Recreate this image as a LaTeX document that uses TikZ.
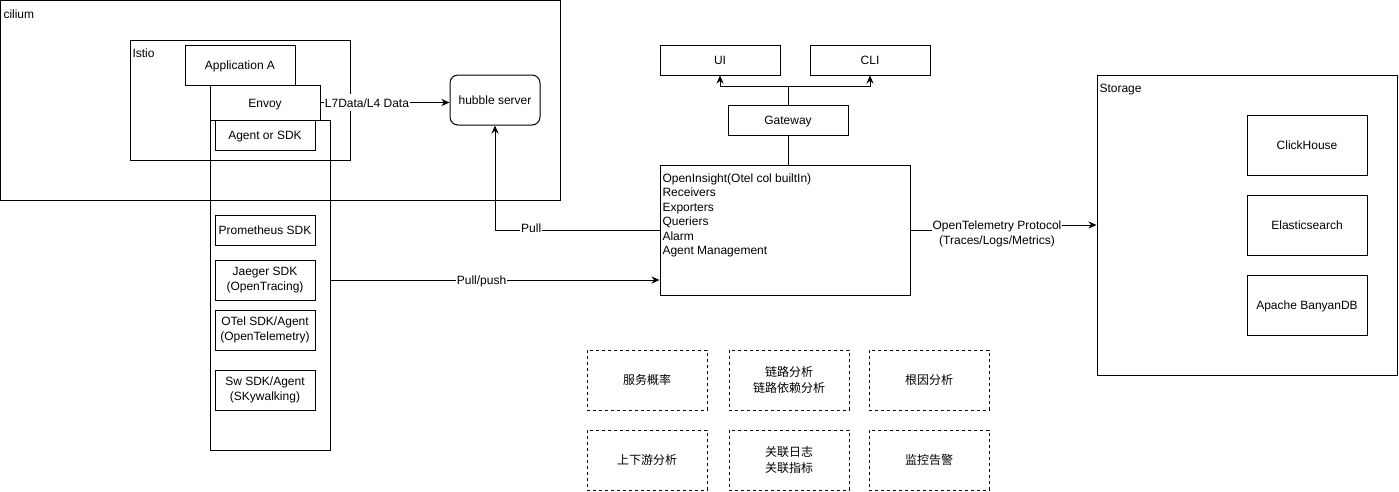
\documentclass[tikz,border=0pt]{standalone}
\usepackage{fontspec}
\setmainfont{Liberation Sans}
\newfontfamily\cjk{Noto Sans CJK SC}
\usetikzlibrary{arrows.meta}
\begin{document}
\begin{tikzpicture}[x=1pt,y=-1pt,line width=1pt,
  font=\fontsize{12}{14.4}\selectfont,
  txt/.style={execute at begin node={\rule{0pt}{12.4pt}},execute at end node={\rule[-2.5pt]{0pt}{2.5pt}}},
  box/.style={draw,inner sep=0pt,align=center,txt},
  dbox/.style={draw,inner sep=0pt,align=center,dash pattern=on 3pt off 3pt,font=\cjk\fontsize{12}{16}\selectfont,minimum width=120,minimum height=60},
  arr/.style={-{Stealth[length=8pt,width=7pt,inset=2.5pt]}},
  lbl/.style={fill=white,inner sep=1pt,align=center,txt},
  tag/.style={anchor=north west,inner sep=0pt,txt}]
\useasboundingbox (0,0) rectangle (1399,491);
% containers
\node[box,minimum width=559.5,minimum height=199.5] (cilium) at (280.25,100.25) {};
\node[tag] (ciliumlbl) at (3,6) {cilium};
\node[box,minimum width=220,minimum height=120] (istio) at (240,100) {};
\node[tag] (istiolbl) at (132,44.5) {Istio};
\node[box,minimum width=120,minimum height=330] (col) at (270,285) {};
\node[box,minimum width=110,minimum height=40] (app) at (240,65) {Application A};
\node[box,minimum width=110,minimum height=35] (envoy) at (265,102.5) {Envoy};
\node[box,minimum width=100,minimum height=30] (agent) at (265,135) {Agent or SDK};
\node[box,minimum width=100,minimum height=30] (prom) at (265,230) {Prometheus SDK};
\node[box,minimum width=100,minimum height=40] (jaeger) at (265,280) {Jaeger SDK\\(OpenTracing)};
\node[box,minimum width=100,minimum height=40] (otel) at (265,330) {OTel SDK/Agent\\(OpenTelemetry)};
\node[box,minimum width=100,minimum height=40] (sw) at (265,390) {Sw SDK/Agent\\(SKywalking)};
\node[box,rounded corners=8pt,minimum width=90,minimum height=50] (hubble) at (495,100) {hubble server};
% middle
\node[box,minimum width=120,minimum height=30] (ui) at (720,60) {UI};
\node[box,minimum width=120,minimum height=30] (cli) at (870,60) {CLI};
\node[box,minimum width=120,minimum height=30] (gw) at (788,120) {Gateway};
\node[box,minimum width=250,minimum height=130] (oi) at (785,230) {};
\node[tag,align=left,font=\fontsize{12}{14.5}\selectfont] (oitext) at (662,173) {OpenInsight(Otel col builtIn)\\Receivers\\Exporters\\Queriers\\Alarm\\Agent Management};
% storage
\node[box,minimum width=300,minimum height=300] (storage) at (1247,225) {};
\node[tag] (storagelbl) at (1099,80) {Storage};
\node[box,minimum width=120,minimum height=60] (ch) at (1307,145) {ClickHouse};
\node[box,minimum width=120,minimum height=60] (es) at (1307,225) {Elasticsearch};
\node[box,minimum width=120,minimum height=60] (bdb) at (1307,305) {Apache BanyanDB};
% dashed feature boxes
\node[dbox] (f1) at (647,380) {服务概率};
\node[dbox] (f2) at (789,380) {链路分析\\链路依赖分析};
\node[dbox] (f3) at (929,380) {根因分析};
\node[dbox] (f4) at (647,460) {上下游分析};
\node[dbox] (f5) at (789,460) {关联日志\\关联指标};
\node[dbox] (f6) at (929,460) {监控告警};
% connectors
\draw[arr] (envoy.east) -- node[lbl,pos=0.36] {L7Data/L4 Data} (hubble.west |- envoy.east);
\draw[arr] (oi.west) -| node[lbl,pos=0.39,yshift=2.5pt] {Pull} (hubble.south);
\coordinate (pp) at (330,280);
\draw[arr] (pp) -- node[lbl,pos=0.46] {Pull/push} (oi.west |- pp);
\draw (gw.south) -- (gw.south |- oi.north);
\coordinate (j) at (788,86);
\draw[arr] (gw.north) -- (j) -| (ui.south);
\draw[arr] (j) -| (cli.south);
\coordinate (jog) at (995,230);
\draw[arr] (oi.east) -- (jog) |- (storage.west);
\node[lbl,font=\fontsize{12}{15}\selectfont] (otlp) at (997,234) {OpenTelemetry Protocol\\(Traces/Logs/Metrics)};
\end{tikzpicture}
\end{document}
